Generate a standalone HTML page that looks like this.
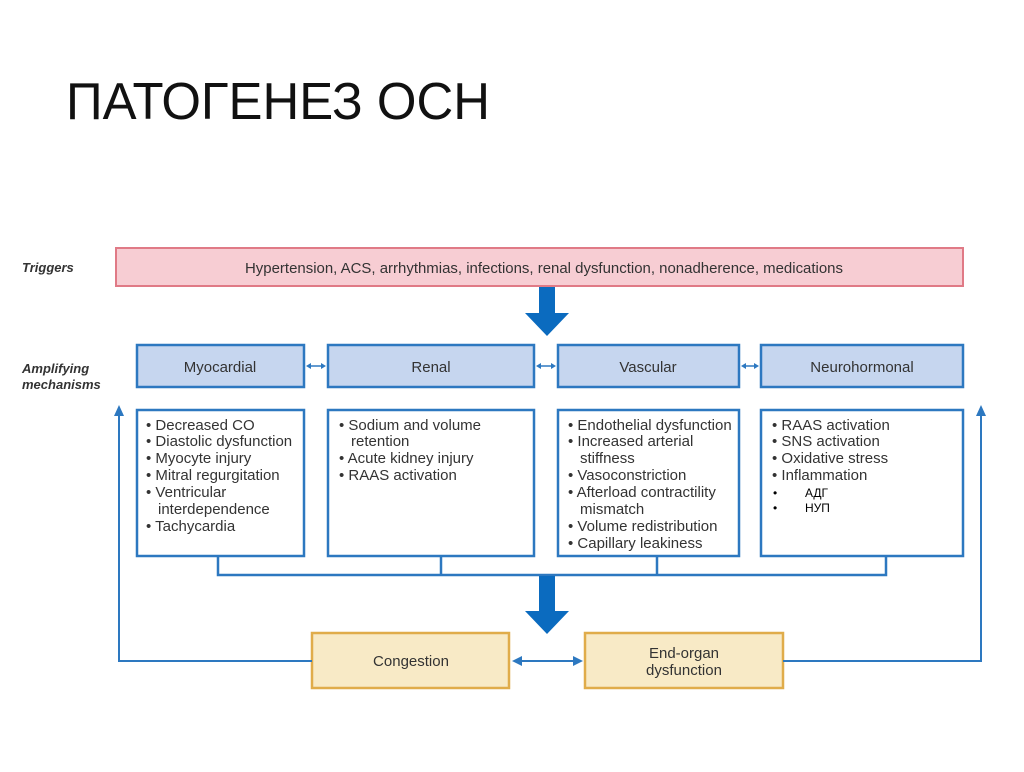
<!DOCTYPE html>
<html><head><meta charset="utf-8"><style>
body{margin:0;width:1024px;height:767px;background:#fff;overflow:hidden;font-family:"Liberation Sans","Noto Sans CJK SC",sans-serif;}
svg text{font-family:"Liberation Sans","Noto Sans CJK SC",sans-serif;}
</style></head><body>
<svg width="1024" height="767" viewBox="0 0 1024 767" xmlns="http://www.w3.org/2000/svg">
<text x="66" y="119" font-size="52" fill="#111" textLength="424" lengthAdjust="spacingAndGlyphs">ПАТОГЕНЕЗ ОСН</text>
<text x="22" y="272" font-size="13" font-weight="bold" font-style="italic" fill="#333">Triggers</text>
<text x="22" y="373" font-size="13" font-weight="bold" font-style="italic" fill="#333">Amplifying</text>
<text x="22" y="389" font-size="13" font-weight="bold" font-style="italic" fill="#333">mechanisms</text>
<rect x="116" y="248" width="847" height="38" fill="#f7cdd3" stroke="#e07a86" stroke-width="2"/>
<text x="544" y="273" font-size="15" fill="#333" text-anchor="middle" textLength="598" lengthAdjust="spacingAndGlyphs">Hypertension, ACS, arrhythmias, infections, renal dysfunction, nonadherence, medications</text>
<polygon points="539,287 555,287 555,313 569,313 547,336 525,313 539,313" fill="#0b6bbf"/>
<g fill="#c6d6ef" stroke="#2d78c0" stroke-width="2.5">
<rect x="137" y="345" width="167" height="42"/><rect x="328" y="345" width="206" height="42"/>
<rect x="558" y="345" width="181" height="42"/><rect x="761" y="345" width="202" height="42"/>
</g>
<g font-size="15" fill="#333" text-anchor="middle">
<text x="220" y="372">Myocardial</text><text x="431" y="372">Renal</text>
<text x="648" y="372">Vascular</text><text x="862" y="372">Neurohormonal</text>
</g>
<g stroke="#2d78c0" stroke-width="1.5">
<line x1="310" y1="366" x2="322" y2="366"/><line x1="540" y1="366" x2="552" y2="366"/><line x1="745" y1="366" x2="755" y2="366"/>
</g>
<g fill="#2d78c0">
<polygon points="306,366 311,363 311,369"/><polygon points="326,366 321,363 321,369"/>
<polygon points="536,366 541,363 541,369"/><polygon points="556,366 551,363 551,369"/>
<polygon points="741,366 746,363 746,369"/><polygon points="759,366 754,363 754,369"/>
</g>
<g fill="#fff" stroke="#2d78c0" stroke-width="2.5">
<rect x="137" y="410" width="167" height="146"/><rect x="328" y="410" width="206" height="146"/>
<rect x="558" y="410" width="181" height="146"/><rect x="761" y="410" width="202" height="146"/>
</g>
<g font-size="15" fill="#333">
<text x="146" y="430">• Decreased CO</text><text x="146" y="446">• Diastolic dysfunction</text>
<text x="146" y="463">• Myocyte injury</text><text x="146" y="480">• Mitral regurgitation</text>
<text x="146" y="497">• Ventricular</text><text x="158" y="514">interdependence</text>
<text x="146" y="531">• Tachycardia</text>
<text x="339" y="430">• Sodium and volume</text><text x="351" y="446">retention</text>
<text x="339" y="463">• Acute kidney injury</text><text x="339" y="480">• RAAS activation</text>
<text x="568" y="430">• Endothelial dysfunction</text><text x="568" y="446">• Increased arterial</text>
<text x="580" y="463">stiffness</text><text x="568" y="480">• Vasoconstriction</text>
<text x="568" y="497">• Afterload contractility</text><text x="580" y="514">mismatch</text>
<text x="568" y="531">• Volume redistribution</text><text x="568" y="548">• Capillary leakiness</text>
<text x="772" y="430">• RAAS activation</text><text x="772" y="446">• SNS activation</text>
<text x="772" y="463">• Oxidative stress</text><text x="772" y="480">• Inflammation</text>
</g>
<g font-size="12" fill="#000">
<text x="773" y="497">•</text><text x="805" y="497">АДГ</text>
<text x="773" y="512">•</text><text x="805" y="512">НУП</text>
</g>
<g stroke="#2d78c0" stroke-width="2.5" fill="none">
<polyline points="218,556 218,575 886,575 886,556"/>
<line x1="441" y1="556" x2="441" y2="575"/><line x1="657" y1="556" x2="657" y2="575"/>
</g>
<polygon points="539,576 555,576 555,611 569,611 547,634 525,611 539,611" fill="#0b6bbf"/>
<g fill="#f8eac6" stroke="#e0ac4a" stroke-width="2.5">
<rect x="312" y="633" width="197" height="55"/><rect x="585" y="633" width="198" height="55"/>
</g>
<text x="411" y="666" font-size="15" fill="#333" text-anchor="middle">Congestion</text>
<text x="684" y="658" font-size="15" fill="#333" text-anchor="middle">End-organ</text>
<text x="684" y="675" font-size="15" fill="#333" text-anchor="middle">dysfunction</text>
<g stroke="#2d78c0" stroke-width="2" fill="none">
<line x1="518" y1="661" x2="576" y2="661"/>
<polyline points="312,661 119,661 119,414"/>
<polyline points="783,661 981,661 981,414"/>
</g>
<g fill="#2d78c0">
<polygon points="512,661 522,656 522,666"/><polygon points="583,661 573,656 573,666"/>
<polygon points="119,405 114,416 124,416"/><polygon points="981,405 976,416 986,416"/>
</g>
</svg>
</body></html>
